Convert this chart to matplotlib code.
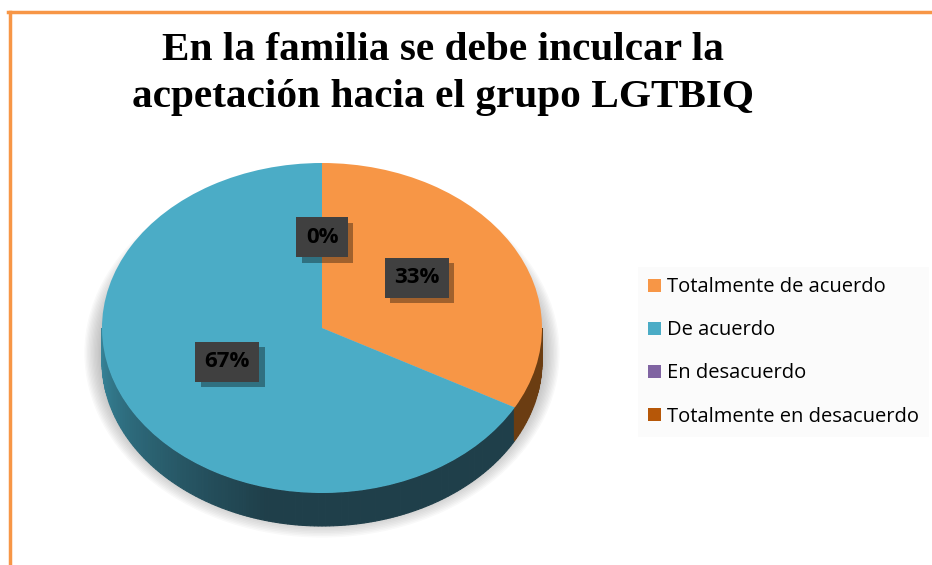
import numpy as np
import matplotlib.pyplot as plt
from matplotlib.patches import Polygon, Ellipse
import matplotlib.patheffects as pe
from matplotlib.colors import to_rgb

# data
categories = ['Totalmente de acuerdo', 'De acuerdo', 'En desacuerdo', 'Totalmente en desacuerdo']
values = [33, 67, 0, 0]
colors = ['#F79646', '#4BACC6', '#8064A2', '#B65708']
side_colors = ['#6B3D12', '#1F3F4A', '#3A2D4A', '#4A2404']
title = 'En la familia se debe inculcar la\nacpetación hacia el grupo LGTBIQ'

W, H = 932, 565
fig = plt.figure(figsize=(W / 100, H / 100), dpi=100)

# orange frame (top + left)
fig.add_artist(plt.Line2D([8 / W, 1], [1 - 12 / H] * 2, color='#F79646', lw=2.5))
fig.add_artist(plt.Line2D([10 / W] * 2, [0, 1 - 12 / H], color='#F79646', lw=2.5))

fig.text(443 / W, 1 - 74 / H, title, ha='center', va='center', fontsize=29.7,
         fontweight='bold', family='Liberation Serif', linespacing=1.38)

# pie axes: 1 x-unit = 220 px, 1 y-unit = 165 px (tilted look)
ax = fig.add_axes([36 / W, 6 / H, 572 / W, 445.5 / H])
wedges, texts, autotexts = ax.pie(values, colors=colors, startangle=90, counterclock=False,
                                  autopct='%1.0f%%', pctdistance=0.5,
                                  wedgeprops=dict(linewidth=0, zorder=3))
ax.set_aspect('auto')
ax.set_xlim(-1.3, 1.3)
ax.set_ylim(-1.4, 1.3)
ax.axis('off')

depth = 0.2

# soft shadow under the pie
for k in range(14):
    f = k / 13
    ax.add_patch(Ellipse((0, -0.15), 2 * (1.0 + 0.08 * f), 2 * (1.0 + 0.12 * f),
                         facecolor='#8a8a8a', edgecolor='none', alpha=0.05, zorder=0.5))


def wedge_index(theta):
    for i, w in enumerate(wedges):
        t1, t2 = w.theta1, w.theta2
        if t2 - t1 <= 0:
            continue
        if (theta - t1) % 360 <= (t2 - t1):
            return i
    return None


# visible side of the pie (front half)
base_blue_light = np.array(to_rgb('#37879C'))
for a in np.arange(180, 360, 1.0):
    i = wedge_index(a + 0.5)
    if i is None:
        continue
    c = np.array(to_rgb(side_colors[i]))
    if i == 1 and a < 255:
        f = (a - 180) / 75
        c = base_blue_light * (1 - f) + c * f
    th = np.radians([a, a + 1.0])
    xs = np.cos(th)
    ys = np.sin(th)
    pts = [(xs[0], ys[0]), (xs[1], ys[1]), (xs[1], ys[1] - depth), (xs[0], ys[0] - depth)]
    ax.add_patch(Polygon(pts, closed=True, facecolor=c, edgecolor=c, linewidth=0.8, zorder=2))

# percentage labels in dark boxes
seen = set()
for t in autotexts:
    x, y = t.get_position()
    pos = (round(x, 3), round(y, 3))
    if pos in seen:
        t.set_visible(False)
        continue
    seen.add(pos)
    t.set_position((x, y + 0.05))
    t.set_fontsize(16)
    t.set_fontweight('bold')
    t.set_family('Open Sans')
    t.set_color('black')
    t.set_zorder(6)
    t.set_bbox(dict(boxstyle='square,pad=0.42', facecolor='#404040', edgecolor='none'))
    t.get_bbox_patch().set_path_effects([
        pe.withSimplePatchShadow(offset=(4, -4), shadow_rgbFace='black', alpha=0.35)])

leg = fig.legend(wedges, categories, loc='upper left', bbox_to_anchor=(628 / W, 1 - 257 / H),
                 frameon=True, facecolor='#FAFAFA', edgecolor='none', fancybox=False,
                 handlelength=0.62, handleheight=0.62, handletextpad=0.3, labelspacing=1.15,
                 prop=dict(family='Open Sans', size=14.5), borderpad=0.5)

plt.savefig('out.png', dpi=100)
plt.close()
